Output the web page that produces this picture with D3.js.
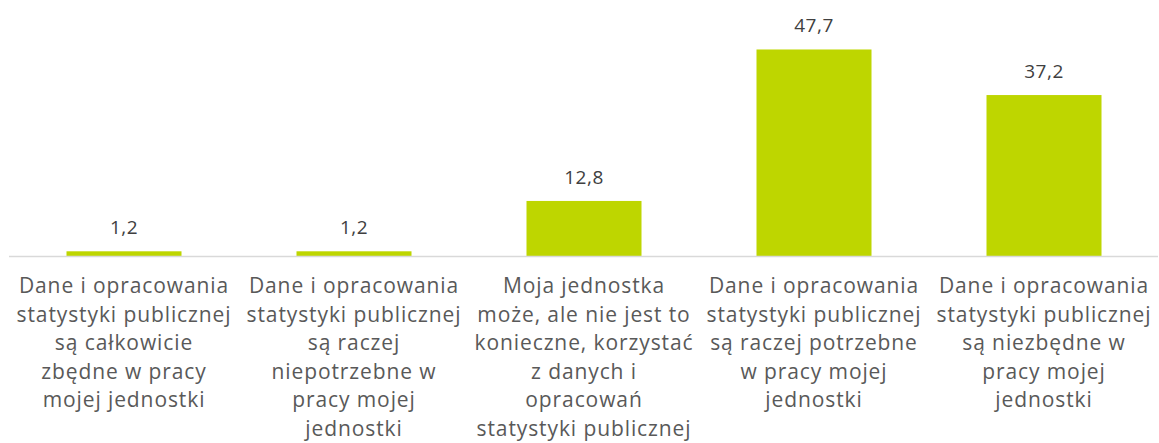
<!DOCTYPE html>
<html>
<head>
<meta charset="utf-8">
<script src="https://cdn.jsdelivr.net/npm/d3@7"></script>
<style>
  body { margin: 0; background: #fff; }
  text { font-family: "Open Sans", "Noto Sans", sans-serif; }
</style>
</head>
<body>
<div id="chart"></div>
<script>
var w = 1159;
var h = 443;

// data
var categories = ["c1", "c2", "c3", "c4", "c5"];
var values = [1.2, 1.2, 12.8, 47.7, 37.2];
var valueLabels = ["1,2", "1,2", "12,8", "47,7", "37,2"];
var categoryLines = [
  ["Dane i opracowania", "statystyki publicznej", "są całkowicie", "zbędne w pracy", "mojej jednostki"],
  ["Dane i opracowania", "statystyki publicznej", "są raczej", "niepotrzebne w", "pracy mojej", "jednostki"],
  ["Moja jednostka", "może, ale nie jest to", "konieczne, korzystać", "z danych i", "opracowań", "statystyki publicznej"],
  ["Dane i opracowania", "statystyki publicznej", "są raczej potrzebne", "w pracy mojej", "jednostki"],
  ["Dane i opracowania", "statystyki publicznej", "są niezbędne w", "pracy mojej", "jednostki"]
];

var svg = d3.select("#chart").append("svg")
  .attr("width", w)
  .attr("height", h);

var x = d3.scaleBand()
  .domain(categories)
  .range([9, 1159])
  .paddingInner(0.5)
  .paddingOuter(0.25);

var y = d3.scaleLinear()
  .domain([0, 50])
  .range([256.5, 39.5]);

// bars
svg.selectAll("rect.bar")
  .data(values)
  .enter()
  .append("rect")
  .attr("class", "bar")
  .attr("x", function(d, i) { return x(categories[i]); })
  .attr("y", function(d) { return y(d); })
  .attr("width", x.bandwidth())
  .attr("height", function(d) { return y(0) - y(d); })
  .attr("fill", "#bed600");

// baseline
svg.append("line")
  .attr("x1", 9).attr("x2", 1158)
  .attr("y1", y(0)).attr("y2", y(0))
  .attr("stroke", "#d9d9d9")
  .attr("stroke-width", 1.5);

// value labels
svg.selectAll("text.val")
  .data(values)
  .enter()
  .append("text")
  .attr("class", "val")
  .attr("x", function(d, i) { return x(categories[i]) + x.bandwidth() / 2; })
  .attr("y", function(d) { return y(d) - 17; })
  .attr("text-anchor", "middle")
  .attr("font-size", 19)
  .attr("letter-spacing", 0.5)
  .attr("fill", "#404040")
  .text(function(d, i) { return valueLabels[i]; });

// category labels
var lab = svg.selectAll("text.cat")
  .data(categoryLines)
  .enter()
  .append("text")
  .attr("class", "cat")
  .attr("text-anchor", "middle")
  .attr("font-size", 21)
  .attr("letter-spacing", 0.9)
  .attr("fill", "#595959");

lab.selectAll("tspan")
  .data(function(d, i) { return d.map(function(t) { return { t: t, i: i }; }); })
  .enter()
  .append("tspan")
  .attr("x", function(d) { return x(categories[d.i]) + x.bandwidth() / 2; })
  .attr("y", function(d, j) { return 293 + j * 28.6; })
  .text(function(d) { return d.t; });
</script>
</body>
</html>
